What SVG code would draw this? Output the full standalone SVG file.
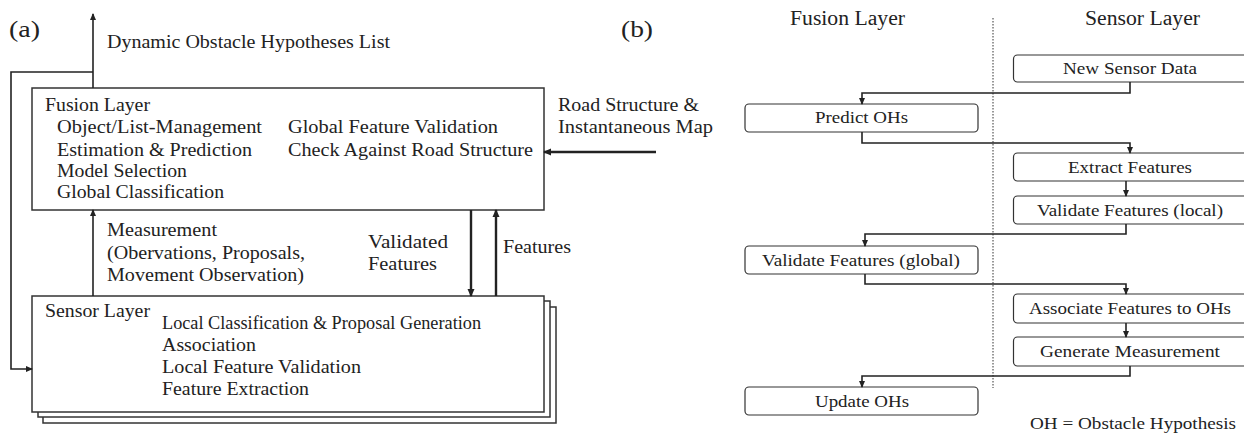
<svg xmlns="http://www.w3.org/2000/svg" width="1244" height="440" viewBox="0 0 1244 440">
<style>
text{font-family:"Liberation Serif","Times New Roman",serif;fill:#222;}
.a{font-size:19px;}
.b{font-size:17.5px;}
.h{font-size:20px;}
.lbl{font-size:24px;}
.box{fill:#fff;stroke:#333;stroke-width:1.5;}
.rb{fill:#fff;stroke:#333;stroke-width:1.2;}
.ln{fill:none;stroke:#222;stroke-width:1.6;}
.th{fill:none;stroke:#222;stroke-width:2.4;}
</style>
<defs>
<marker id="ah" markerWidth="8" markerHeight="8" refX="7" refY="4" orient="auto" markerUnits="userSpaceOnUse">
<path d="M0,0.5 L8,4 L0,7.5 Z" fill="#222"/>
</marker>
<marker id="ahs" markerWidth="7" markerHeight="7" refX="6" refY="3.5" orient="auto" markerUnits="userSpaceOnUse">
<path d="M0,0.5 L7,3.5 L0,6.5 Z" fill="#222"/>
</marker>
</defs>
<rect width="1244" height="440" fill="#fff"/>
<text class="lbl" x="9" y="37" textLength="31" lengthAdjust="spacingAndGlyphs">(a)</text>
<text class="lbl" x="621" y="37" textLength="32" lengthAdjust="spacingAndGlyphs">(b)</text>

<g id="sensor-layer-a">
<rect class="box" x="43" y="307" width="513" height="116"/>
<rect class="box" x="38" y="301" width="512" height="116"/>
<rect class="box" x="32" y="296" width="512" height="116"/>
<text class="a" x="45" y="317" textLength="105" lengthAdjust="spacingAndGlyphs">Sensor Layer</text>
<text class="a" x="162" y="329" textLength="319" lengthAdjust="spacingAndGlyphs">Local Classification &amp; Proposal Generation</text>
<text class="a" x="162" y="351" textLength="94" lengthAdjust="spacingAndGlyphs">Association</text>
<text class="a" x="162" y="373" textLength="199" lengthAdjust="spacingAndGlyphs">Local Feature Validation</text>
<text class="a" x="162" y="395" textLength="147" lengthAdjust="spacingAndGlyphs">Feature Extraction</text>
</g>
<g id="fusion-layer-a">
<rect class="box" x="32" y="88" width="512" height="122"/>
<text class="a" x="45" y="111" textLength="105" lengthAdjust="spacingAndGlyphs">Fusion Layer</text>
<text class="a" x="57" y="133" textLength="205" lengthAdjust="spacingAndGlyphs">Object/List-Management</text>
<text class="a" x="57" y="156" textLength="195" lengthAdjust="spacingAndGlyphs">Estimation &amp; Prediction</text>
<text class="a" x="57" y="177" textLength="130" lengthAdjust="spacingAndGlyphs">Model Selection</text>
<text class="a" x="57" y="198" textLength="167" lengthAdjust="spacingAndGlyphs">Global Classification</text>
<text class="a" x="288" y="133" textLength="210" lengthAdjust="spacingAndGlyphs">Global Feature Validation</text>
<text class="a" x="288" y="156" textLength="245" lengthAdjust="spacingAndGlyphs">Check Against Road Structure</text>
</g>
<g id="labels-a">
<text class="a" x="107" y="48" textLength="283" lengthAdjust="spacingAndGlyphs">Dynamic Obstacle Hypotheses List</text>
<text class="a" x="558" y="111" textLength="141" lengthAdjust="spacingAndGlyphs">Road Structure &amp;</text>
<text class="a" x="558" y="133" textLength="155" lengthAdjust="spacingAndGlyphs">Instantaneous Map</text>
<text class="a" x="107" y="236" textLength="110" lengthAdjust="spacingAndGlyphs">Measurement</text>
<text class="a" x="107" y="259" textLength="198" lengthAdjust="spacingAndGlyphs">(Obervations, Proposals,</text>
<text class="a" x="107" y="281" textLength="197" lengthAdjust="spacingAndGlyphs">Movement Observation)</text>
<text class="a" x="368" y="248" textLength="80" lengthAdjust="spacingAndGlyphs">Validated</text>
<text class="a" x="368" y="270" textLength="69" lengthAdjust="spacingAndGlyphs">Features</text>
<text class="a" x="503" y="253" textLength="68" lengthAdjust="spacingAndGlyphs">Features</text>
</g>
<g id="connectors-a">
<path class="ln" d="M93,88 V14" marker-end="url(#ahs)"/>
<path class="ln" d="M93,72 H11 V369 H32" marker-end="url(#ahs)"/>
<path class="ln" d="M93,296 V210" marker-end="url(#ahs)"/>
<path class="th" d="M656,152 H544" marker-end="url(#ah)"/>
<path class="th" d="M471,210 V296" marker-end="url(#ah)"/>
<path class="th" d="M496,296 V210" marker-end="url(#ah)"/>
</g>

<text class="h" x="790" y="25" textLength="115" lengthAdjust="spacingAndGlyphs">Fusion Layer</text>
<text class="h" x="1085" y="25" textLength="115" lengthAdjust="spacingAndGlyphs">Sensor Layer</text>
<line x1="993" y1="18" x2="993" y2="388" stroke="#333" stroke-width="1" stroke-dasharray="1.5,1.5"/>

<g id="new-sensor-data">
<rect class="rb" x="1013.5" y="55" width="235" height="27" rx="4"/>
<text class="b" x="1063" y="74" textLength="134" lengthAdjust="spacingAndGlyphs">New Sensor Data</text>
</g>
<g id="predict-ohs">
<rect class="rb" x="745" y="104" width="233" height="28" rx="4"/>
<text class="b" x="815" y="123" textLength="93" lengthAdjust="spacingAndGlyphs">Predict OHs</text>
</g>
<g id="extract-features">
<rect class="rb" x="1013.5" y="153" width="235" height="28" rx="4"/>
<text class="b" x="1068" y="173" textLength="124" lengthAdjust="spacingAndGlyphs">Extract Features</text>
</g>
<g id="validate-local">
<rect class="rb" x="1013.5" y="196" width="235" height="28" rx="4"/>
<text class="b" x="1037" y="216" textLength="186" lengthAdjust="spacingAndGlyphs">Validate Features (local)</text>
</g>
<g id="validate-global">
<rect class="rb" x="745" y="246" width="233" height="28" rx="4"/>
<text class="b" x="762" y="266" textLength="198" lengthAdjust="spacingAndGlyphs">Validate Features (global)</text>
</g>
<g id="associate">
<rect class="rb" x="1013.5" y="294" width="235" height="29" rx="4"/>
<text class="b" x="1029" y="314" textLength="202" lengthAdjust="spacingAndGlyphs">Associate Features to OHs</text>
</g>
<g id="generate-measurement">
<rect class="rb" x="1013.5" y="337" width="235" height="29" rx="4"/>
<text class="b" x="1040" y="357" textLength="180" lengthAdjust="spacingAndGlyphs">Generate Measurement</text>
</g>
<g id="update-ohs">
<rect class="rb" x="745" y="387" width="233" height="28" rx="4"/>
<text class="b" x="815" y="407" textLength="94" lengthAdjust="spacingAndGlyphs">Update OHs</text>
</g>
<text class="b" x="1030" y="429" textLength="206" lengthAdjust="spacingAndGlyphs">OH = Obstacle Hypothesis</text>

<g id="connectors-b">
<path class="ln" d="M1130,82 V93 H862 V104" marker-end="url(#ahs)"/>
<path class="ln" d="M862,132 V143 H1130 V153" marker-end="url(#ahs)"/>
<path class="ln" d="M1126,181 V196" marker-end="url(#ahs)"/>
<path class="ln" d="M1126,224 V234 H865 V246" marker-end="url(#ahs)"/>
<path class="ln" d="M865,274 V284 H1126 V294" marker-end="url(#ahs)"/>
<path class="ln" d="M1126,323 V337" marker-end="url(#ahs)"/>
<path class="ln" d="M1130,366 V376 H862 V387" marker-end="url(#ahs)"/>
</g>
</svg>
